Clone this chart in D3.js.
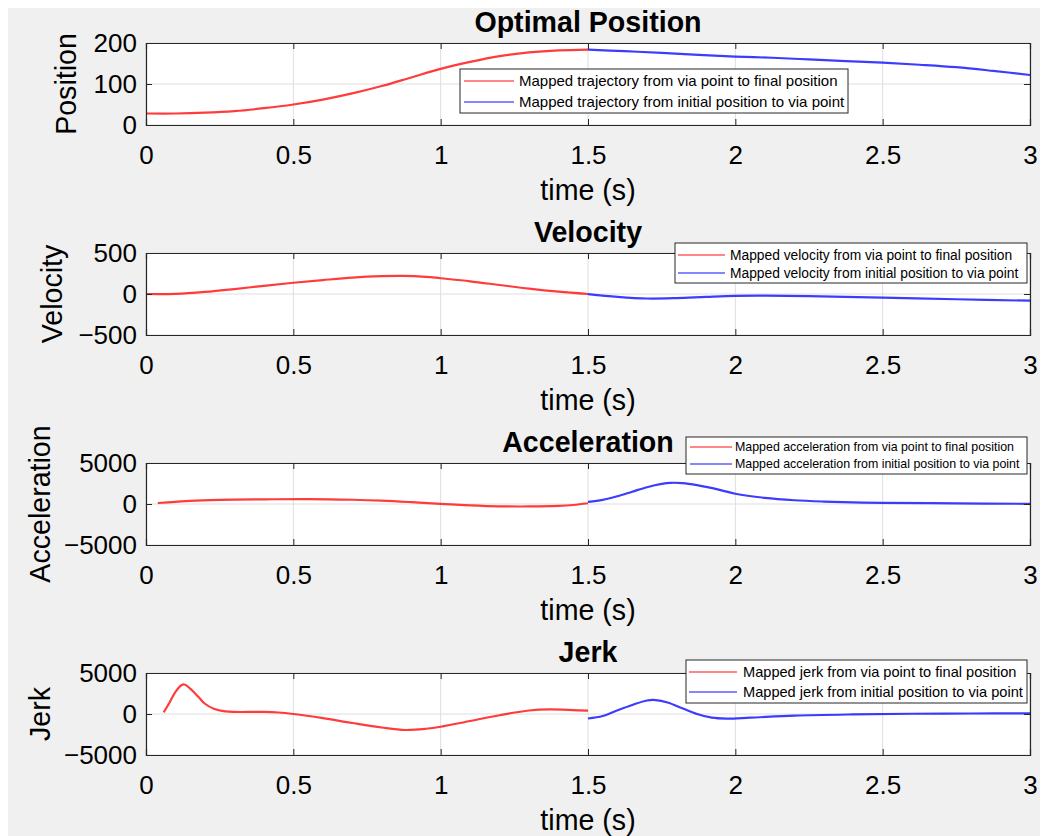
<!DOCTYPE html>
<html><head><meta charset="utf-8">
<script src="https://cdn.jsdelivr.net/npm/d3@7"></script>
<style>
body{margin:0;background:#fff;}
text{font-family:"Liberation Sans",Arial,Helvetica,sans-serif;fill:#000;}
</style>
</head><body>
<svg id="c" width="1051" height="836"></svg>
<script>
// ---------- data ----------
const xTicks = [0, 0.5, 1, 1.5, 2, 2.5, 3];
const titles = ["Optimal Position", "Velocity", "Acceleration", "Jerk"];
const yLabels = ["Position", "Velocity", "Acceleration", "Jerk"];
const yTicks = [[0, 100, 200], [-500, 0, 500], [-5000, 0, 5000], [-5000, 0, 5000]];
const yDomains = [[0, 200], [-500, 500], [-5000, 5000], [-5000, 5000]];
const legendNames = ["trajectory", "velocity", "acceleration", "jerk"];

const posRedT = [0, 0.1, 0.2, 0.3, 0.4, 0.5, 0.6, 0.7, 0.8, 0.9, 1.0, 1.1, 1.2, 1.3, 1.4, 1.5];
const posRedY = [28, 28, 30, 34, 41, 50, 62, 77, 95, 116, 137, 154, 168, 177, 182, 184];
const posBlueT = [1.5, 1.625, 1.75, 1.875, 2.0, 2.125, 2.25, 2.375, 2.5, 2.625, 2.75, 2.875, 3.0];
const posBlueY = [184, 180, 176, 171, 167, 164, 160, 156, 152, 147, 141, 132, 122];

const velRedT = [0, 0.1, 0.2, 0.3, 0.4, 0.5, 0.6, 0.7, 0.8, 0.87, 0.95, 1.0, 1.1, 1.2, 1.3, 1.4, 1.5];
const velRedY = [0, 2, 25, 60, 100, 137, 170, 200, 218, 222, 210, 192, 155, 110, 65, 28, 0];
const velBlueT = [1.5, 1.6, 1.7, 1.8, 1.9, 2.0, 2.1, 2.25, 2.5, 2.75, 3.0];
const velBlueY = [-2, -35, -55, -50, -35, -22, -20, -26, -45, -64, -82];

const accRedT = [0.04, 0.1, 0.15, 0.25, 0.4, 0.55, 0.7, 0.8, 0.9, 1.0, 1.1, 1.2, 1.3, 1.4, 1.45, 1.5];
const accRedY = [120, 260, 390, 510, 570, 600, 520, 410, 230, 20, -160, -280, -300, -230, -120, 90];
const accBlueT = [1.5, 1.55, 1.6, 1.65, 1.7, 1.75, 1.78, 1.82, 1.87, 1.95, 2.0, 2.1, 2.2, 2.3, 2.4, 2.5, 2.75, 3.0];
const accBlueY = [250, 500, 950, 1500, 2050, 2450, 2580, 2550, 2300, 1700, 1250, 750, 460, 300, 200, 140, 80, 20];

const jerkRedT = [0.06, 0.08, 0.1, 0.12, 0.13, 0.15, 0.18, 0.2, 0.23, 0.27, 0.3, 0.4, 0.45, 0.5, 0.6, 0.7, 0.8, 0.88, 0.95, 1.0, 1.1, 1.2, 1.3, 1.37, 1.45, 1.5];
const jerkRedY = [200, 1400, 2700, 3500, 3600, 3100, 2000, 1250, 650, 320, 250, 250, 180, 0, -500, -1100, -1650, -1950, -1800, -1550, -850, -150, 430, 560, 480, 400];
const jerkBlueT = [1.5, 1.55, 1.6, 1.65, 1.7, 1.73, 1.77, 1.82, 1.87, 1.92, 1.97, 2.05, 2.2, 2.4, 2.6, 2.8, 3.0];
const jerkBlueY = [-550, -250, 450, 1100, 1650, 1700, 1400, 700, 0, -450, -560, -450, -200, -50, 30, 60, 80];

const redSeries = [[posRedT, posRedY], [velRedT, velRedY], [accRedT, accRedY], [jerkRedT, jerkRedY]];
const blueSeries = [[posBlueT, posBlueY], [velBlueT, velBlueY], [accBlueT, accBlueY], [jerkBlueT, jerkBlueY]];

// ---------- layout ----------
const W = 1051, H = 836;
const left = 146, right = 1030, plotH = 82, step = 210, firstTop = 43;
const ylabelX = [76, 62, 50, 50];
const legendBox = [
  {x: 460, y: 69, w: 388, h: 44, l1: 81, l2: 102, lx0: 464, lx1: 514, tx: 519, fs: 15},
  {x: 675, y: 243, w: 352, h: 40, l1: 255, l2: 273, lx0: 678, lx1: 725, tx: 730, fs: 13.8},
  {x: 686, y: 437, w: 341, h: 37, l1: 447, l2: 464, lx0: 690, lx1: 732, tx: 735, fs: 12.4},
  {x: 686, y: 660, w: 341, h: 43, l1: 672, l2: 692, lx0: 689, lx1: 737, tx: 743, fs: 14.6}
];
const RED = "#ff1a1a", BLUE = "#1a1aff";

const svg = d3.select("#c");
svg.append("rect").attr("x", 8).attr("y", 8).attr("width", 1032).attr("height", H - 8).attr("fill", "#f0f0f0");

const x = d3.scaleLinear().domain([0, 3]).range([left, right]);
const fmt = d3.format("");

titles.forEach((title, i) => {
  const top = firstTop + step * i, bottom = top + plotH;
  const y = d3.scaleLinear().domain(yDomains[i]).range([bottom, top]);
  const g = svg.append("g");

  g.append("rect").attr("x", left).attr("y", top).attr("width", right - left).attr("height", plotH).attr("fill", "#fff");

  // grid
  g.append("g").selectAll("line").data(xTicks).join("line")
    .attr("x1", d => x(d)).attr("x2", d => x(d)).attr("y1", top).attr("y2", bottom)
    .attr("stroke", "#dedede").attr("stroke-width", 1);
  g.append("g").selectAll("line").data(yTicks[i]).join("line")
    .attr("x1", left).attr("x2", right).attr("y1", d => y(d)).attr("y2", d => y(d))
    .attr("stroke", "#dedede").attr("stroke-width", 1);

  // lines
  const line = d3.line().x(d => x(d[0])).y(d => y(d[1])).curve(d3.curveCatmullRom.alpha(0.5));
  const rs = redSeries[i], bs = blueSeries[i];
  g.append("path").datum(rs[0].map((t, k) => [t, rs[1][k]])).attr("d", line)
    .attr("fill", "none").attr("stroke", RED).attr("stroke-width", 2.2).attr("stroke-opacity", 0.85);
  g.append("path").datum(bs[0].map((t, k) => [t, bs[1][k]])).attr("d", line)
    .attr("fill", "none").attr("stroke", BLUE).attr("stroke-width", 2.2).attr("stroke-opacity", 0.85);

  // axes (inward ticks, box)
  const axB = d3.axisBottom(x).tickValues(xTicks).tickSize(-6).tickPadding(14).tickFormat(fmt);
  const axT = d3.axisTop(x).tickValues(xTicks).tickSize(-6).tickFormat("");
  const axL = d3.axisLeft(y).tickValues(yTicks[i]).tickSize(-6).tickPadding(9).tickFormat(d3.format(""));
  const axR = d3.axisRight(y).tickValues(yTicks[i]).tickSize(-6).tickFormat("");
  const gb = g.append("g").attr("transform", `translate(0,${bottom})`).call(axB);
  const gt = g.append("g").attr("transform", `translate(0,${top})`).call(axT);
  const gl = g.append("g").attr("transform", `translate(${left},0)`).call(axL);
  const gr = g.append("g").attr("transform", `translate(${right},0)`).call(axR);
  [gb, gt, gl, gr].forEach(a => {
    a.selectAll(".domain").attr("stroke", "#262626").attr("stroke-width", 1.2);
    a.selectAll(".tick line").attr("stroke", "#262626");
    a.selectAll("text").attr("font-size", 26).attr("font-family", '"Liberation Sans",Arial,sans-serif').attr("fill", "#262626");
  });
  gb.selectAll(".tick text").attr("dy", null).attr("y", 39).attr("dominant-baseline", "auto");

  // title
  g.append("text").attr("x", (left + right) / 2).attr("y", top - 11).attr("text-anchor", "middle")
    .attr("font-size", 28.6).attr("font-weight", "bold").text(title);
  // x label
  g.append("text").attr("x", (left + right) / 2).attr("y", bottom + 75).attr("text-anchor", "middle")
    .attr("font-size", 28.6).attr("fill", "#262626").text("time (s)");
  // y label
  g.append("text").attr("transform", `translate(${ylabelX[i]},${(top + bottom) / 2}) rotate(-90)`)
    .attr("text-anchor", "middle").attr("font-size", 28.6).attr("fill", "#262626").text(yLabels[i]);

  // legend
  const L = legendBox[i];
  const lg = g.append("g");
  lg.append("rect").attr("x", L.x).attr("y", L.y).attr("width", L.w).attr("height", L.h)
    .attr("fill", "#fff").attr("stroke", "#262626").attr("stroke-width", 1);
  const entries = [
    {c: RED, yy: L.l1, t: `Mapped ${legendNames[i]} from via point to final position`},
    {c: BLUE, yy: L.l2, t: `Mapped ${legendNames[i]} from initial position to via point`}
  ];
  entries.forEach(e => {
    lg.append("line").attr("x1", L.lx0).attr("x2", L.lx1).attr("y1", e.yy).attr("y2", e.yy)
      .attr("stroke", e.c).attr("stroke-width", 1.5).attr("stroke-opacity", 0.7);
    lg.append("text").attr("x", L.tx).attr("y", e.yy).attr("dy", "0.35em")
      .attr("font-size", L.fs).attr("fill", "#262626").text(e.t);
  });
});
</script>
</body></html>
